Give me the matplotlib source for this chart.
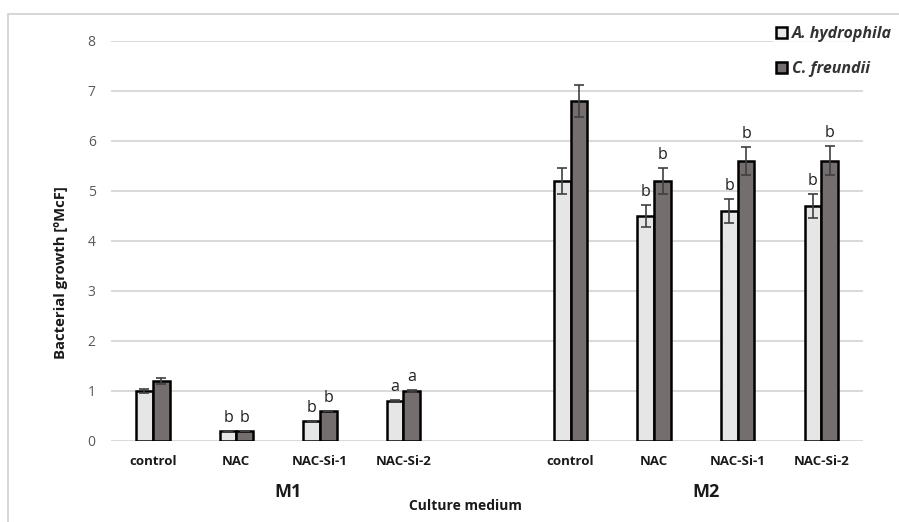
import numpy as np
import matplotlib.pyplot as plt
from matplotlib.patches import Rectangle

plt.rcParams['font.family'] = ['Open Sans', 'DejaVu Sans']

media = ['M1', 'M2']
treatments = ['control', 'NAC', 'NAC-Si-1', 'NAC-Si-2']

# growth per medium, treatments in order above
hydrophila = [1.0, 0.2, 0.4, 0.8, 5.2, 4.5, 4.6, 4.7]
freundii = [1.2, 0.2, 0.6, 1.0, 6.8, 5.2, 5.6, 5.6]
hydrophila_err = [0.04, 0.0, 0.0, 0.02, 0.26, 0.22, 0.24, 0.24]
freundii_err = [0.06, 0.0, 0.0, 0.02, 0.32, 0.26, 0.28, 0.29]
hydrophila_sig = ['', 'b', 'b', 'a', '', 'b', 'b', 'b']
freundii_sig = ['', 'b', 'b', 'a', '', 'b', 'b', 'b']

pos = np.array([0, 1, 2, 3, 5, 6, 7, 8])
w = 0.2

fig = plt.figure(figsize=(8.99, 5.22), dpi=100)
ax = fig.add_axes([0.1235, 0.1552, 0.8365, 0.7663])

# outer chart frame
fig.patches.append(Rectangle((8 / 899, -0.1), 1.2, 1 - 14 / 522 + 0.1,
                             transform=fig.transFigure, fill=False,
                             edgecolor='#d0d0d0', linewidth=1.2))

ax.bar(pos - w / 2, hydrophila, w, color='#e6e6e6', edgecolor='black',
       linewidth=1.8, label='A. hydrophila', zorder=3)
ax.bar(pos + w / 2, freundii, w, color='#756e6e', edgecolor='black',
       linewidth=1.8, label='C. freundii', zorder=3)
ax.errorbar(pos - w / 2, hydrophila, yerr=hydrophila_err, fmt='none',
            ecolor='#404040', elinewidth=1.2, capsize=3.5, capthick=1.2, zorder=4)
ax.errorbar(pos + w / 2, freundii, yerr=freundii_err, fmt='none',
            ecolor='#404040', elinewidth=1.2, capsize=3.5, capthick=1.2, zorder=4)

for x, v, e, s in zip(pos - w / 2, hydrophila, hydrophila_err, hydrophila_sig):
    if s:
        ax.text(x, v + e + 0.1, s, ha='center', va='bottom', fontsize=11.5,
                color='#202020', zorder=5)
for x, v, e, s in zip(pos + w / 2, freundii, freundii_err, freundii_sig):
    if s:
        ax.text(x, v + e + 0.1, s, ha='center', va='bottom', fontsize=11.5,
                color='#202020', zorder=5)

ax.set_xlim(-0.5, 8.5)
ax.set_ylim(0, 8)
ax.set_yticks(range(0, 9))
ax.yaxis.grid(True, color='#d9d9d9', linewidth=1.4, zorder=0)
ax.set_axisbelow(True)
for sp in ax.spines.values():
    sp.set_visible(False)
ax.tick_params(axis='both', length=0)
ax.tick_params(axis='y', labelsize=10, labelcolor='#595959', pad=11)
ax.set_xticks(pos)
ax.set_xticklabels(treatments * 2, fontsize=9.5, fontweight='bold', color='#1a1a1a')
ax.tick_params(axis='x', pad=10)

fig.text(61 / 899, 1 - 273 / 522, 'Bacterial growth [ºMcF]', rotation=90,
         ha='center', va='center', fontsize=10.7, fontweight='bold',
         color='#1a1a1a')

# medium names sit a little right of their group centres
for i, m in enumerate(media):
    ax.text(np.mean(pos[i * 4:(i + 1) * 4]) + 0.12, -1.03, m, ha='center',
            va='center', fontsize=13, fontweight='bold', color='#1a1a1a')
fig.text(465 / 899, 1 - 506 / 522, 'Culture medium', ha='center', va='center',
         fontsize=10, fontweight='bold', color='#1a1a1a')

leg = ax.legend(loc='upper left', bbox_to_anchor=(765 / 899, 1 - 15 / 522),
                bbox_transform=fig.transFigure, frameon=True, fancybox=False,
                handlelength=0.7, handleheight=0.7, handletextpad=0.3,
                labelspacing=1.2, borderpad=0.2,
                prop={'family': 'Open Sans', 'style': 'italic',
                      'weight': 'bold', 'size': 11.5})
leg.get_frame().set_facecolor('white')
leg.get_frame().set_edgecolor('none')
for t in leg.get_texts():
    t.set_color('#333333')

fig.savefig('out.png', dpi=100)
